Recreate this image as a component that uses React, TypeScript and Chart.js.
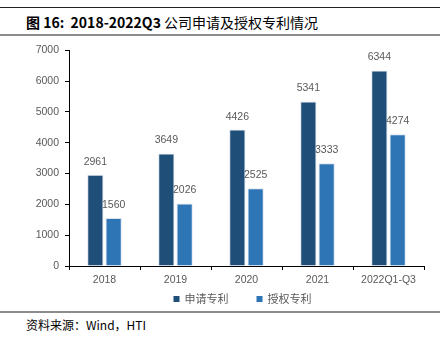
import React, { useEffect, useRef } from "react";
import { Chart, registerables } from "chart.js";

Chart.register(...registerables);

const categories = ["2018", "2019", "2020", "2021", "2022Q1-Q3"];
const appliedPatents = [2961, 3649, 4426, 5341, 6344];
const grantedPatents = [1560, 2026, 2525, 3333, 4274];
const seriesNames = ["申请专利", "授权专利"];
const yTicks = [0, 1000, 2000, 3000, 4000, 5000, 6000, 7000];

const DARK = "#1F4E79";
const LIGHT = "#2E75B6";
const TEXT = "#595959";
const NUM_FONT = "'Liberation Sans', Arial, sans-serif";
const CJK_FONT = "'Noto Sans CJK SC', 'Noto Sans', sans-serif";

const valueLabels = {
  id: "valueLabels",
  afterDatasetsDraw(chart: any) {
    const ctx = chart.ctx;
    ctx.save();
    ctx.font = `10.5px ${NUM_FONT}`;
    ctx.fillStyle = TEXT;
    ctx.textAlign = "center";
    ctx.textBaseline = "middle";
    chart.data.datasets.forEach((ds: any, di: number) => {
      const meta = chart.getDatasetMeta(di);
      meta.data.forEach((el: any, i: number) => {
        ctx.fillText(String(ds.data[i]), el.x, el.y - 13);
      });
    });
    ctx.restore();
  },
};

const customLegend = {
  id: "customLegend",
  afterDraw(chart: any) {
    const ctx = chart.ctx;
    const area = chart.chartArea;
    ctx.save();
    ctx.font = `11px ${CJK_FONT}`;
    ctx.textBaseline = "middle";
    ctx.textAlign = "left";
    const box = 6;
    const gapText = 5;
    const gapItem = 28;
    const items = chart.data.datasets.map((ds: any) => ({
      label: ds.label,
      color: ds.backgroundColor,
      w: box + gapText + ctx.measureText(ds.label).width,
    }));
    const total = items.reduce((s: number, it: any) => s + it.w, 0) + gapItem * (items.length - 1);
    let x = (area.left + area.right) / 2 - 4 - total / 2;
    const y = area.bottom + 33;
    items.forEach((it: any) => {
      ctx.fillStyle = it.color;
      ctx.fillRect(x, y - box / 2, box, box);
      ctx.fillStyle = TEXT;
      ctx.fillText(it.label, x + box + gapText, y);
      x += it.w + gapItem;
    });
    ctx.restore();
  },
};

export default function App() {
  const ref = useRef<HTMLCanvasElement>(null);

  useEffect(() => {
    if (!ref.current) return;
    const chart = new Chart(ref.current, {
      type: "bar",
      data: {
        labels: categories,
        datasets: [
          {
            label: seriesNames[0],
            data: appliedPatents,
            backgroundColor: DARK,
            borderColor: "rgba(215,225,235,0.9)",
            borderWidth: 1,
            categoryPercentage: 0.515,
            barPercentage: 0.89,
          },
          {
            label: seriesNames[1],
            data: grantedPatents,
            backgroundColor: LIGHT,
            borderColor: "rgba(215,225,235,0.9)",
            borderWidth: 1,
            categoryPercentage: 0.515,
            barPercentage: 0.89,
          },
        ],
      },
      options: {
        animation: false,
        responsive: false,
        maintainAspectRatio: false,
        layout: { padding: { left: 0, right: 20, top: 8, bottom: 12 } },
        plugins: {
          legend: { display: false },
          tooltip: { enabled: false },
        },
        scales: {
          x: {
            grid: {
              offset: true,
              drawOnChartArea: false,
              drawTicks: true,
              tickLength: 4,
              tickColor: "#000",
            },
            border: { display: true, color: "#000", width: 1 },
            ticks: {
              color: TEXT,
              font: { size: 10.5, family: NUM_FONT },
              padding: 4,
              maxRotation: 0,
              autoSkip: false,
            },
            afterFit(scale: any) {
              scale.height = 30;
            },
          },
          y: {
            min: 0,
            max: 7000,
            afterBuildTicks(scale: any) {
              scale.ticks = yTicks.map((v) => ({ value: v }));
            },
            grid: {
              drawOnChartArea: false,
              drawTicks: true,
              tickLength: 4,
              tickColor: "#000",
            },
            border: { display: true, color: "#000", width: 1 },
            ticks: {
              color: TEXT,
              font: { size: 10.5, family: NUM_FONT },
              padding: 6,
              callback: (v: any) => String(v),
            },
            afterFit(scale: any) {
              scale.width = 69;
            },
          },
        },
      },
      plugins: [valueLabels, customLegend],
    });
    return () => chart.destroy();
  }, []);

  return (
    <div
      style={{
        position: "absolute",
        left: 0,
        top: 0,
        width: 444,
        height: 337,
        background: "#fff",
        overflow: "hidden",
      }}
    >
      <div style={{ position: "absolute", left: 0, top: 7, width: 440, height: 1, background: "#222" }} />
      <div
        style={{
          position: "absolute",
          left: 26,
          top: 12,
          height: 20,
          lineHeight: "20px",
          fontSize: 14,
          color: "#000",
          whiteSpace: "pre",
          fontFamily: CJK_FONT,
        }}
      >
        <span style={{ fontWeight: 700 }}>{"图 16:  2018-2022Q3 "}</span>
        <span style={{ fontWeight: 400 }}>公司申请及授权专利情况</span>
      </div>
      <div style={{ position: "absolute", left: 0, top: 34, width: 440, height: 2, background: "#8c8c8c" }} />
      <canvas
        ref={ref}
        width={444}
        height={270}
        style={{ position: "absolute", left: 0, top: 38, width: 444, height: 270 }}
      />
      <div style={{ position: "absolute", left: 0, top: 311, width: 440, height: 2, background: "#8c8c8c" }} />
      <div
        style={{
          position: "absolute",
          left: 26,
          top: 316,
          height: 17,
          lineHeight: "17px",
          fontSize: 12,
          color: "#000",
          whiteSpace: "pre",
          fontFamily: CJK_FONT,
        }}
      >
        资料来源：Wind，HTI
      </div>
    </div>
  );
}
